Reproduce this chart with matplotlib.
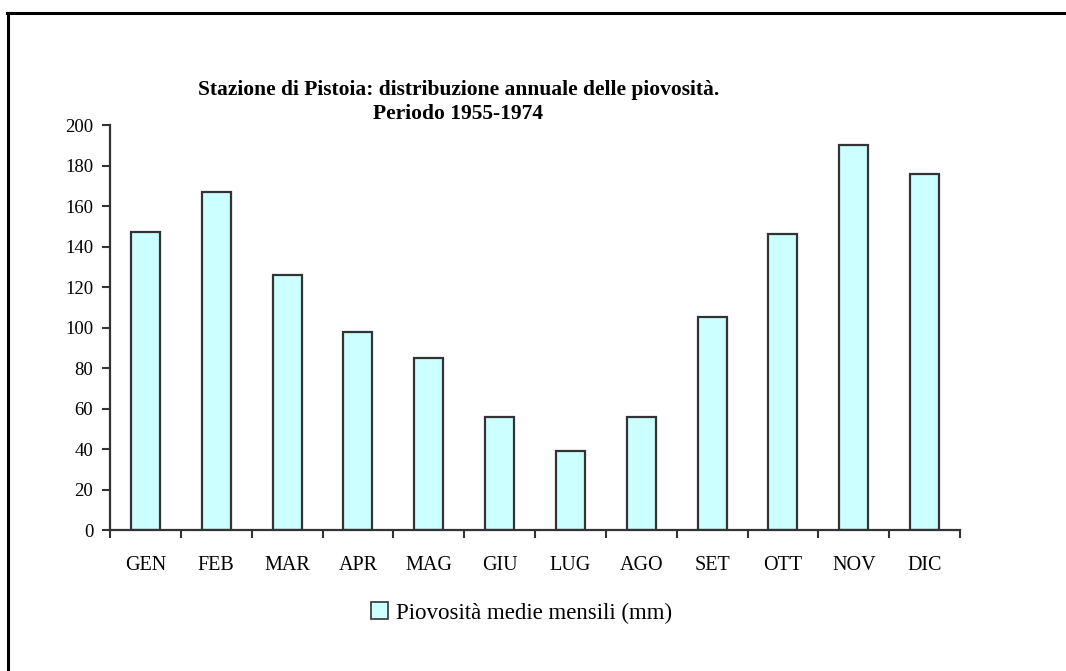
import matplotlib
matplotlib.use("Agg")
import matplotlib.pyplot as plt
from matplotlib.lines import Line2D
from matplotlib.patches import Patch

# Monthly mean rainfall, Pistoia station, 1955-1974 (mm)
months = ["GEN", "FEB", "MAR", "APR", "MAG", "GIU",
          "LUG", "AGO", "SET", "OTT", "NOV", "DIC"]
rain_mm = [147, 167, 126, 98, 85, 56, 39, 56, 105, 146, 190, 176]
y_ticks = [0, 20, 40, 60, 80, 100, 120, 140, 160, 180, 200]

title_text = ("Stazione di Pistoia: distribuzione annuale delle piovosità.\n"
              "Periodo 1955-1974")
legend_label = "Piovosità medie mensili (mm)"

plt.rcParams["font.family"] = ["Liberation Serif", "DejaVu Serif"]

fig = plt.figure(figsize=(10.66, 6.71), dpi=100)
ax = fig.add_axes([0.1032, 0.2101, 0.7974, 0.6036])

edge = "#333333"
fill = "#CCFFFF"
x = list(range(len(months)))
ax.bar(x, rain_mm, width=0.41, color=fill, edgecolor=edge, linewidth=1.6)

ax.set_xlim(-0.5, len(months) - 0.5)
ax.set_ylim(0, 200)
ax.set_yticks(y_ticks)
ax.set_yticklabels([str(v) for v in y_ticks], fontsize=13.5)

# category labels centred on bars, tick marks between categories
ax.set_xticks(x)
ax.set_xticklabels(months, fontsize=14.5)
ax.tick_params(axis="x", which="major", length=0, pad=19)
ax.set_xticks([i - 0.5 for i in range(len(months) + 1)], minor=True)
ax.tick_params(axis="x", which="minor", length=6, width=1.5, color=edge,
               direction="out")
ax.tick_params(axis="y", length=6, width=1.5, color=edge, direction="out",
               pad=6)

for side in ("top", "right"):
    ax.spines[side].set_visible(False)
for side in ("left", "bottom"):
    ax.spines[side].set_color(edge)
    ax.spines[side].set_linewidth(1.6)

fig.text(0.43, 1 - 80 / 671, title_text, ha="center", va="top",
         fontsize=15.5, fontweight="bold", linespacing=1.25,
         multialignment="center")

handle = Patch(facecolor=fill, edgecolor=edge, linewidth=1.2)
fig.legend([handle], [legend_label], loc="center",
           bbox_to_anchor=(0.489, 0.0864), frameon=False, fontsize=16.5,
           handlelength=0.75, handleheight=0.75, handletextpad=0.35)

# frame lines along the top and left of the figure
fig.add_artist(Line2D([7 / 1066, 1.0], [1 - 13 / 671, 1 - 13 / 671],
                      transform=fig.transFigure, color="black", lw=2.2))
fig.add_artist(Line2D([8 / 1066, 8 / 1066], [0.0, 1 - 13 / 671],
                      transform=fig.transFigure, color="black", lw=2.2))

fig.savefig("out.png", dpi=100, facecolor="white")
